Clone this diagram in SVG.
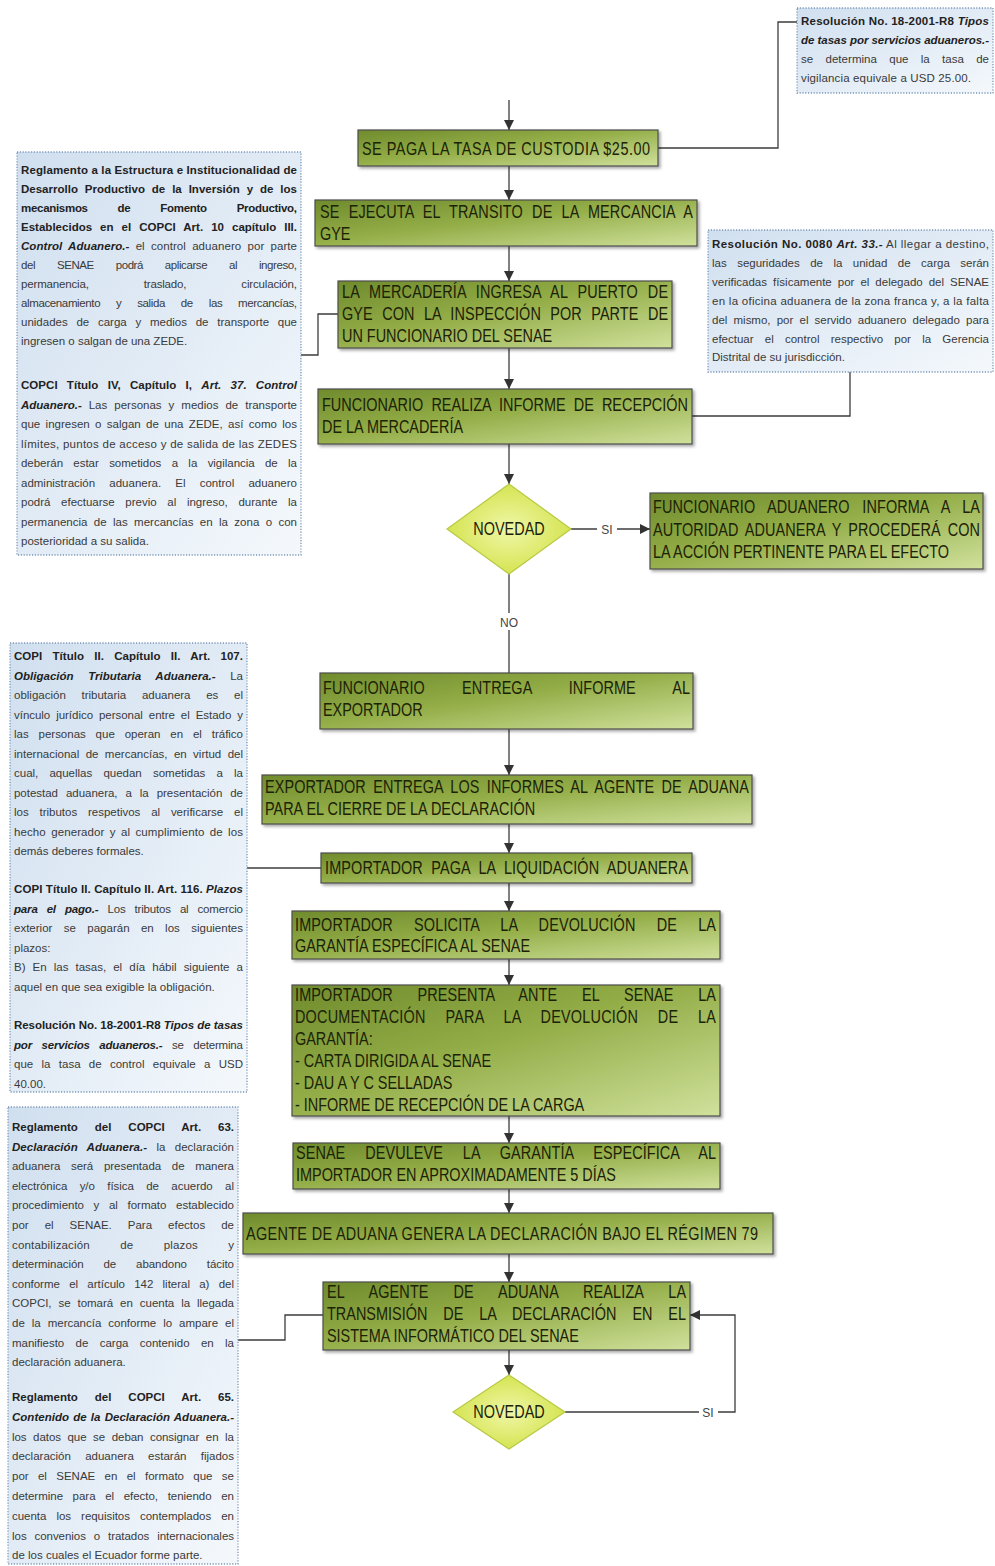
<svg xmlns="http://www.w3.org/2000/svg" width="995" height="1566" viewBox="0 0 995 1566">
<defs>
<style>
.n{font-family:"Liberation Sans",Arial,sans-serif;font-size:11.5px;fill:#3a3a3a}
.b{font-weight:bold;fill:#222}
.bi{font-weight:bold;font-style:italic;fill:#222}
.g{font-family:"Liberation Sans",Arial,sans-serif;font-size:18.5px;fill:#1c2206}
.box{fill:url(#gg);stroke:#4d4d4d;stroke-width:1.2;filter:url(#sh)}
.note{fill:url(#bg);stroke:#7a96b8;stroke-width:1.3;stroke-dasharray:1.2 1.6}
.dia{fill:url(#dg);stroke:#b9c944;stroke-width:1.2}
.c{fill:none;stroke:#3c3c3c;stroke-width:1.3}
.lbl{font-family:"Liberation Sans",Arial,sans-serif;font-size:12px;fill:#444}
</style>
<linearGradient id="gg" x1="0" y1="0" x2="1" y2="1">
<stop offset="0" stop-color="#6f8b2c"/>
<stop offset="0.45" stop-color="#93ad47"/>
<stop offset="1" stop-color="#d0e19c"/>
</linearGradient>
<linearGradient id="bg" x1="0" y1="0" x2="1" y2="1">
<stop offset="0" stop-color="#d0dfef"/>
<stop offset="1" stop-color="#f4f8fc"/>
</linearGradient>
<radialGradient id="dg" cx="0.5" cy="0.5" r="0.6">
<stop offset="0" stop-color="#f0f7a8"/>
<stop offset="1" stop-color="#cfe040"/>
</radialGradient>
<filter id="sh" x="-5%" y="-20%" width="112%" height="150%">
<feDropShadow dx="2" dy="2" stdDeviation="1.5" flood-color="#000" flood-opacity="0.35"/>
</filter>
<marker id="ah" viewBox="0 0 10 10" refX="10" refY="5" markerWidth="10" markerHeight="10" markerUnits="userSpaceOnUse" orient="auto">
<path d="M0,0 L10,5 L0,10 z" fill="#333"/>
</marker>
</defs>
<rect width="995" height="1566" fill="#fff"/>

<g id="connectors">
<path class="c" d="M509,100 V130" marker-end="url(#ah)"/>
<path class="c" d="M509,166 V200" marker-end="url(#ah)"/>
<path class="c" d="M509,246 V281" marker-end="url(#ah)"/>
<path class="c" d="M509,348 V389" marker-end="url(#ah)"/>
<path class="c" d="M509,444 V484" marker-end="url(#ah)"/>
<path class="c" d="M571,529 H650" marker-end="url(#ah)"/>
<path class="c" d="M509,574 V673"/>
<path class="c" d="M509,729 V775" marker-end="url(#ah)"/>
<path class="c" d="M509,824 V853" marker-end="url(#ah)"/>
<path class="c" d="M509,883 V911" marker-end="url(#ah)"/>
<path class="c" d="M509,959 V985" marker-end="url(#ah)"/>
<path class="c" d="M509,1116 V1143" marker-end="url(#ah)"/>
<path class="c" d="M509,1189 V1213" marker-end="url(#ah)"/>
<path class="c" d="M509,1254 V1282" marker-end="url(#ah)"/>
<path class="c" d="M509,1350 V1375" marker-end="url(#ah)"/>
<path class="c" d="M565,1412 H735 V1315 H690" marker-end="url(#ah)"/>
<path class="c" d="M658,148 H778 V22 H797"/>
<path class="c" d="M692,416 H850 V372"/>
<path class="c" d="M338,314 H318 V355 H301"/>
<path class="c" d="M321,868 H247"/>
<path class="c" d="M323,1315 H285 V1340 H238"/>
<rect x="597" y="521" width="20" height="16" fill="#fff"/>
<text class="lbl" x="607" y="534" text-anchor="middle">SI</text>
<rect x="496" y="613" width="26" height="17" fill="#fff"/>
<text class="lbl" x="509" y="627" text-anchor="middle">NO</text>
<rect x="699" y="1404" width="19" height="16" fill="#fff"/>
<text class="lbl" x="708" y="1417" text-anchor="middle">SI</text>
</g>

<g id="n1">
<rect class="box" x="358" y="130" width="300" height="36"/>
<text class="g" transform="translate(362,155) scale(0.78,1)" textLength="369.2" lengthAdjust="spacing">SE PAGA LA TASA DE CUSTODIA $25.00</text>
</g>

<g id="n2">
<rect class="box" x="315" y="200" width="382" height="46"/>
<text class="g" transform="translate(320,218) scale(0.78,1)" textLength="478.2" lengthAdjust="spacing" word-spacing="6.4">SE EJECUTA EL TRANSITO DE LA MERCANCIA A</text>
<text class="g" transform="translate(320,240) scale(0.78,1)">GYE</text>
</g>

<g id="n3">
<rect class="box" x="338" y="281" width="334" height="67"/>
<text class="g" transform="translate(342,298) scale(0.78,1)" textLength="418" lengthAdjust="spacing" word-spacing="7.4">LA MERCADERÍA INGRESA AL PUERTO DE</text>
<text class="g" transform="translate(342,320) scale(0.78,1)" textLength="418" lengthAdjust="spacing" word-spacing="6.9">GYE CON LA INSPECCIÓN POR PARTE DE</text>
<text class="g" transform="translate(342,342) scale(0.78,1)">UN FUNCIONARIO DEL SENAE</text>
</g>

<g id="n4">
<rect class="box" x="318" y="389" width="374" height="55"/>
<text class="g" transform="translate(322,411) scale(0.78,1)" textLength="469.2" lengthAdjust="spacing" word-spacing="5.1">FUNCIONARIO REALIZA INFORME DE RECEPCIÓN</text>
<text class="g" transform="translate(322,433) scale(0.78,1)">DE LA MERCADERÍA</text>
</g>

<g id="d1">
<polygon class="dia" points="509,484 571,529 509,574 447,529"/>
<text class="g" transform="translate(509,535) scale(0.78,1)" text-anchor="middle">NOVEDAD</text>
</g>

<g id="n5">
<rect class="box" x="650" y="493" width="333" height="76"/>
<text class="g" transform="translate(653,513) scale(0.78,1)" textLength="419.2" lengthAdjust="spacing" word-spacing="10.9">FUNCIONARIO ADUANERO INFORMA A LA</text>
<text class="g" transform="translate(653,536) scale(0.78,1)" textLength="419.2" lengthAdjust="spacing" word-spacing="3.8">AUTORIDAD ADUANERA Y PROCEDERÁ CON</text>
<text class="g" transform="translate(653,558) scale(0.78,1)">LA ACCIÓN PERTINENTE PARA EL EFECTO</text>
</g>

<g id="n6">
<rect class="box" x="320" y="673" width="373" height="56"/>
<text class="g" transform="translate(323,694) scale(0.78,1)" textLength="470.5" lengthAdjust="spacing" word-spacing="42.5">FUNCIONARIO ENTREGA INFORME AL</text>
<text class="g" transform="translate(323,716) scale(0.78,1)">EXPORTADOR</text>
</g>

<g id="n7">
<rect class="box" x="262" y="775" width="490" height="49"/>
<text class="g" transform="translate(265,793) scale(0.78,1)" textLength="620.5" lengthAdjust="spacing" word-spacing="4">EXPORTADOR ENTREGA LOS INFORMES AL AGENTE DE ADUANA</text>
<text class="g" transform="translate(265,815) scale(0.78,1)">PARA EL CIERRE DE LA DECLARACIÓN</text>
</g>

<g id="n8">
<rect class="box" x="321" y="853" width="371" height="30"/>
<text class="g" transform="translate(325,874) scale(0.78,1)" textLength="465.4" lengthAdjust="spacing" word-spacing="5.4">IMPORTADOR PAGA LA LIQUIDACIÓN ADUANERA</text>
</g>

<g id="n9">
<rect class="box" x="292" y="911" width="428" height="48"/>
<text class="g" transform="translate(295,931) scale(0.78,1)" textLength="539.7" lengthAdjust="spacing" word-spacing="21.8">IMPORTADOR SOLICITA LA DEVOLUCIÓN DE LA</text>
<text class="g" transform="translate(295,952) scale(0.78,1)">GARANTÍA ESPECÍFICA AL SENAE</text>
</g>

<g id="n10">
<rect class="box" x="292" y="985" width="428" height="131"/>
<text class="g" transform="translate(295,1001) scale(0.78,1)" textLength="539.7" lengthAdjust="spacing" word-spacing="26.2">IMPORTADOR PRESENTA ANTE EL SENAE LA</text>
<text class="g" transform="translate(295,1023) scale(0.78,1)" textLength="539.7" lengthAdjust="spacing" word-spacing="20">DOCUMENTACIÓN PARA LA DEVOLUCIÓN DE LA</text>
<text class="g" transform="translate(295,1045) scale(0.78,1)">GARANTÍA:</text>
<text class="g" transform="translate(295,1067) scale(0.78,1)">- CARTA DIRIGIDA AL SENAE</text>
<text class="g" transform="translate(295,1089) scale(0.78,1)">- DAU A Y C SELLADAS</text>
<text class="g" transform="translate(295,1111) scale(0.78,1)">- INFORME DE RECEPCIÓN DE LA CARGA</text>
</g>

<g id="n11">
<rect class="box" x="293" y="1143" width="427" height="46"/>
<text class="g" transform="translate(296,1159) scale(0.78,1)" textLength="538.5" lengthAdjust="spacing" word-spacing="20.3">SENAE DEVULEVE LA GARANTÍA ESPECÍFICA AL</text>
<text class="g" transform="translate(296,1181) scale(0.78,1)">IMPORTADOR EN APROXIMADAMENTE 5 DÍAS</text>
</g>

<g id="n12">
<rect class="box" x="243" y="1213" width="530" height="41"/>
<text class="g" transform="translate(246,1240) scale(0.78,1)" textLength="656.4" lengthAdjust="spacing">AGENTE DE ADUANA GENERA LA DECLARACIÓN BAJO EL RÉGIMEN 79</text>
</g>

<g id="n13">
<rect class="box" x="323" y="1282" width="367" height="68"/>
<text class="g" transform="translate(327,1298) scale(0.78,1)" textLength="460.3" lengthAdjust="spacing" word-spacing="26.7">EL AGENTE DE ADUANA REALIZA LA</text>
<text class="g" transform="translate(327,1320) scale(0.78,1)" textLength="460.3" lengthAdjust="spacing" word-spacing="15.2">TRANSMISIÓN DE LA DECLARACIÓN EN EL</text>
<text class="g" transform="translate(327,1342) scale(0.78,1)">SISTEMA INFORMÁTICO DEL SENAE</text>
</g>

<g id="d2">
<polygon class="dia" points="509,1375 565,1412 509,1449 453,1412"/>
<text class="g" transform="translate(509,1418) scale(0.78,1)" text-anchor="middle">NOVEDAD</text>
</g>

<g id="note-tr">
<rect class="note" x="797" y="8" width="196" height="85"/>
<text class="n" x="801" y="25" textLength="188" lengthAdjust="spacing"><tspan class="b">Resolución No. 18-2001-R8 </tspan><tspan class="bi">Tipos</tspan></text>
<text class="n bi" x="801" y="44" textLength="188" lengthAdjust="spacing">de tasas por servicios aduaneros.-</text>
<text class="n" x="801" y="63" textLength="188" lengthAdjust="spacing" word-spacing="9">se determina que la tasa de</text>
<text class="n" x="801" y="82" textLength="170" lengthAdjust="spacing">vigilancia equivale a USD 25.00.</text>
</g>

<g id="note-l1">
<rect class="note" x="17" y="152" width="284" height="403"/>
<text class="n b" x="21" y="174" textLength="276" lengthAdjust="spacing">Reglamento a la Estructura e Institucionalidad de</text>
<text class="n b" x="21" y="193" textLength="276" lengthAdjust="spacing" word-spacing="3.7">Desarrollo Productivo de la Inversión y de los</text>
<text class="n b" x="21" y="212" textLength="276" lengthAdjust="spacing" word-spacing="27">mecanismos de Fomento Productivo,</text>
<text class="n b" x="21" y="231" textLength="276" lengthAdjust="spacing" word-spacing="4.8">Establecidos en el COPCI Art. 10 capítulo III.</text>
<text class="n" x="21" y="250" textLength="276" lengthAdjust="spacing" word-spacing="3"><tspan class="bi">Control Aduanero.-</tspan> el control aduanero por parte</text>
<text class="n" x="21" y="269" textLength="276" lengthAdjust="spacing" word-spacing="19">del SENAE podrá aplicarse al ingreso,</text>
<text class="n" x="21" y="288" textLength="276" lengthAdjust="spacing" word-spacing="52">permanencia, traslado, circulación,</text>
<text class="n" x="21" y="307" textLength="276" lengthAdjust="spacing" word-spacing="13">almacenamiento y salida de las mercancías,</text>
<text class="n" x="21" y="326" textLength="276" lengthAdjust="spacing" word-spacing="5.5">unidades de carga y medios de transporte que</text>
<text class="n" x="21" y="345">ingresen o salgan de una ZEDE.</text>
<text class="n" x="21" y="389" textLength="276" lengthAdjust="spacing" word-spacing="6"><tspan class="b">COPCI Título IV, Capítulo I, </tspan><tspan class="bi">Art. 37. Control</tspan></text>
<text class="n" x="21" y="408.5" textLength="276" lengthAdjust="spacing" word-spacing="3.8"><tspan class="bi">Aduanero.-</tspan> Las personas y medios de transporte</text>
<text class="n" x="21" y="428" textLength="276" lengthAdjust="spacing" word-spacing="2.2">que ingresen o salgan de una ZEDE, así como los</text>
<text class="n" x="21" y="447.5" textLength="276" lengthAdjust="spacing">límites, puntos de acceso y de salida de las ZEDES</text>
<text class="n" x="21" y="467" textLength="276" lengthAdjust="spacing" word-spacing="7.2">deberán estar sometidos a la vigilancia de la</text>
<text class="n" x="21" y="486.5" textLength="276" lengthAdjust="spacing" word-spacing="11">administración aduanera. El control aduanero</text>
<text class="n" x="21" y="506" textLength="276" lengthAdjust="spacing" word-spacing="7.5">podrá efectuarse previo al ingreso, durante la</text>
<text class="n" x="21" y="525.5" textLength="276" lengthAdjust="spacing" word-spacing="3.2">permanencia de las mercancías en la zona o con</text>
<text class="n" x="21" y="545">posterioridad a su salida.</text>
</g>

<g id="note-r">
<rect class="note" x="708" y="230" width="285" height="142"/>
<text class="n" x="712" y="248" textLength="277" lengthAdjust="spacing"><tspan class="b">Resolución No. 0080 </tspan><tspan class="bi">Art. 33.-</tspan> Al llegar a destino,</text>
<text class="n" x="712" y="267" textLength="277" lengthAdjust="spacing" word-spacing="7.3">las seguridades de la unidad de carga serán</text>
<text class="n" x="712" y="286" textLength="277" lengthAdjust="spacing" word-spacing="2.8">verificadas físicamente por el delegado del SENAE</text>
<text class="n" x="712" y="305" textLength="277" lengthAdjust="spacing">en la oficina aduanera de la zona franca y, a la falta</text>
<text class="n" x="712" y="324" textLength="277" lengthAdjust="spacing" word-spacing="3">del mismo, por el servido aduanero delegado para</text>
<text class="n" x="712" y="343" textLength="277" lengthAdjust="spacing" word-spacing="8">efectuar el control respectivo por la Gerencia</text>
<text class="n" x="712" y="361">Distrital de su jurisdicción.</text>
</g>

<g id="note-l2">
<rect class="note" x="10" y="643" width="237" height="449"/>
<text class="n b" x="14" y="660" textLength="229" lengthAdjust="spacing" word-spacing="7">COPI Título II. Capítulo II. Art. 107.</text>
<text class="n" x="14" y="679.5" textLength="229" lengthAdjust="spacing" word-spacing="11.3"><tspan class="bi">Obligación Tributaria Aduanera.-</tspan> La</text>
<text class="n" x="14" y="699" textLength="229" lengthAdjust="spacing" word-spacing="12.5">obligación tributaria aduanera es el</text>
<text class="n" x="14" y="718.5" textLength="229" lengthAdjust="spacing" word-spacing="2.8">vínculo jurídico personal entre el Estado y</text>
<text class="n" x="14" y="738" textLength="229" lengthAdjust="spacing" word-spacing="6.7">las personas que operan en el tráfico</text>
<text class="n" x="14" y="757.5" textLength="229" lengthAdjust="spacing" word-spacing="3.2">internacional de mercancías, en virtud del</text>
<text class="n" x="14" y="777" textLength="229" lengthAdjust="spacing" word-spacing="8">cual, aquellas quedan sometidas a la</text>
<text class="n" x="14" y="796.5" textLength="229" lengthAdjust="spacing" word-spacing="4.8">potestad aduanera, a la presentación de</text>
<text class="n" x="14" y="816" textLength="229" lengthAdjust="spacing" word-spacing="7.6">los tributos respetivos al verificarse el</text>
<text class="n" x="14" y="835.5" textLength="229" lengthAdjust="spacing" word-spacing="2">hecho generador y al cumplimiento de los</text>
<text class="n" x="14" y="855">demás deberes formales.</text>
<text class="n" x="14" y="893" textLength="229" lengthAdjust="spacing"><tspan class="b">COPI Título II. Capítulo II. Art. 116. </tspan><tspan class="bi">Plazos</tspan></text>
<text class="n" x="14" y="912.5" textLength="229" lengthAdjust="spacing" word-spacing="6"><tspan class="bi">para el pago.-</tspan> Los tributos al comercio</text>
<text class="n" x="14" y="932" textLength="229" lengthAdjust="spacing" word-spacing="8.2">exterior se pagarán en los siguientes</text>
<text class="n" x="14" y="951.5">plazos:</text>
<text class="n" x="14" y="971" textLength="229" lengthAdjust="spacing" word-spacing="4">B) En las tasas, el día hábil siguiente a</text>
<text class="n" x="14" y="990.5">aquel en que sea exigible la obligación.</text>
<text class="n" x="14" y="1029" textLength="229" lengthAdjust="spacing"><tspan class="b">Resolución No. 18-2001-R8 </tspan><tspan class="bi">Tipos de tasas</tspan></text>
<text class="n" x="14" y="1048.5" textLength="229" lengthAdjust="spacing" word-spacing="6.4"><tspan class="bi">por servicios aduaneros.-</tspan> se determina</text>
<text class="n" x="14" y="1068" textLength="229" lengthAdjust="spacing" word-spacing="5.1">que la tasa de control equivale a USD</text>
<text class="n" x="14" y="1087.5">40.00.</text>
</g>

<g id="note-l3">
<rect class="note" x="8" y="1107" width="230" height="457"/>
<text class="n b" x="12" y="1131" textLength="222" lengthAdjust="spacing" word-spacing="13.7">Reglamento del COPCI Art. 63.</text>
<text class="n" x="12" y="1150.6" textLength="222" lengthAdjust="spacing" word-spacing="6"><tspan class="bi">Declaración Aduanera.-</tspan> la declaración</text>
<text class="n" x="12" y="1170.2" textLength="222" lengthAdjust="spacing" word-spacing="7.5">aduanera será presentada de manera</text>
<text class="n" x="12" y="1189.8" textLength="222" lengthAdjust="spacing" word-spacing="9.2">electrónica y/o física de acuerdo al</text>
<text class="n" x="12" y="1209.4" textLength="222" lengthAdjust="spacing" word-spacing="6.5">procedimiento y al formato establecido</text>
<text class="n" x="12" y="1229" textLength="222" lengthAdjust="spacing" word-spacing="12.8">por el SENAE. Para efectos de</text>
<text class="n" x="12" y="1248.6" textLength="222" lengthAdjust="spacing" word-spacing="27">contabilización de plazos y</text>
<text class="n" x="12" y="1268.2" textLength="222" lengthAdjust="spacing" word-spacing="16.7">determinación de abandono tácito</text>
<text class="n" x="12" y="1287.8" textLength="222" lengthAdjust="spacing" word-spacing="6">conforme el artículo 142 literal a) del</text>
<text class="n" x="12" y="1307.4" textLength="222" lengthAdjust="spacing" word-spacing="3.7">COPCI, se tomará en cuenta la llegada</text>
<text class="n" x="12" y="1327" textLength="222" lengthAdjust="spacing" word-spacing="3.8">de la mercancía conforme lo ampare el</text>
<text class="n" x="12" y="1346.6" textLength="222" lengthAdjust="spacing" word-spacing="8.2">manifiesto de carga contenido en la</text>
<text class="n" x="12" y="1366.2">declaración aduanera.</text>
<text class="n b" x="12" y="1401" textLength="222" lengthAdjust="spacing" word-spacing="13.7">Reglamento del COPCI Art. 65.</text>
<text class="n bi" x="12" y="1420.8" textLength="222" lengthAdjust="spacing" word-spacing="1">Contenido de la Declaración Aduanera.-</text>
<text class="n" x="12" y="1440.6" textLength="222" lengthAdjust="spacing" word-spacing="3.5">los datos que se deban consignar en la</text>
<text class="n" x="12" y="1460.4" textLength="222" lengthAdjust="spacing" word-spacing="11">declaración aduanera estarán fijados</text>
<text class="n" x="12" y="1480.2" textLength="222" lengthAdjust="spacing" word-spacing="6.2">por el SENAE en el formato que se</text>
<text class="n" x="12" y="1500" textLength="222" lengthAdjust="spacing" word-spacing="6.4">determine para el efecto, teniendo en</text>
<text class="n" x="12" y="1519.8" textLength="222" lengthAdjust="spacing" word-spacing="7">cuenta los requisitos contemplados en</text>
<text class="n" x="12" y="1539.6" textLength="222" lengthAdjust="spacing" word-spacing="4.7">los convenios o tratados internacionales</text>
<text class="n" x="12" y="1559.4">de los cuales el Ecuador forme parte.</text>
</g>
</svg>
